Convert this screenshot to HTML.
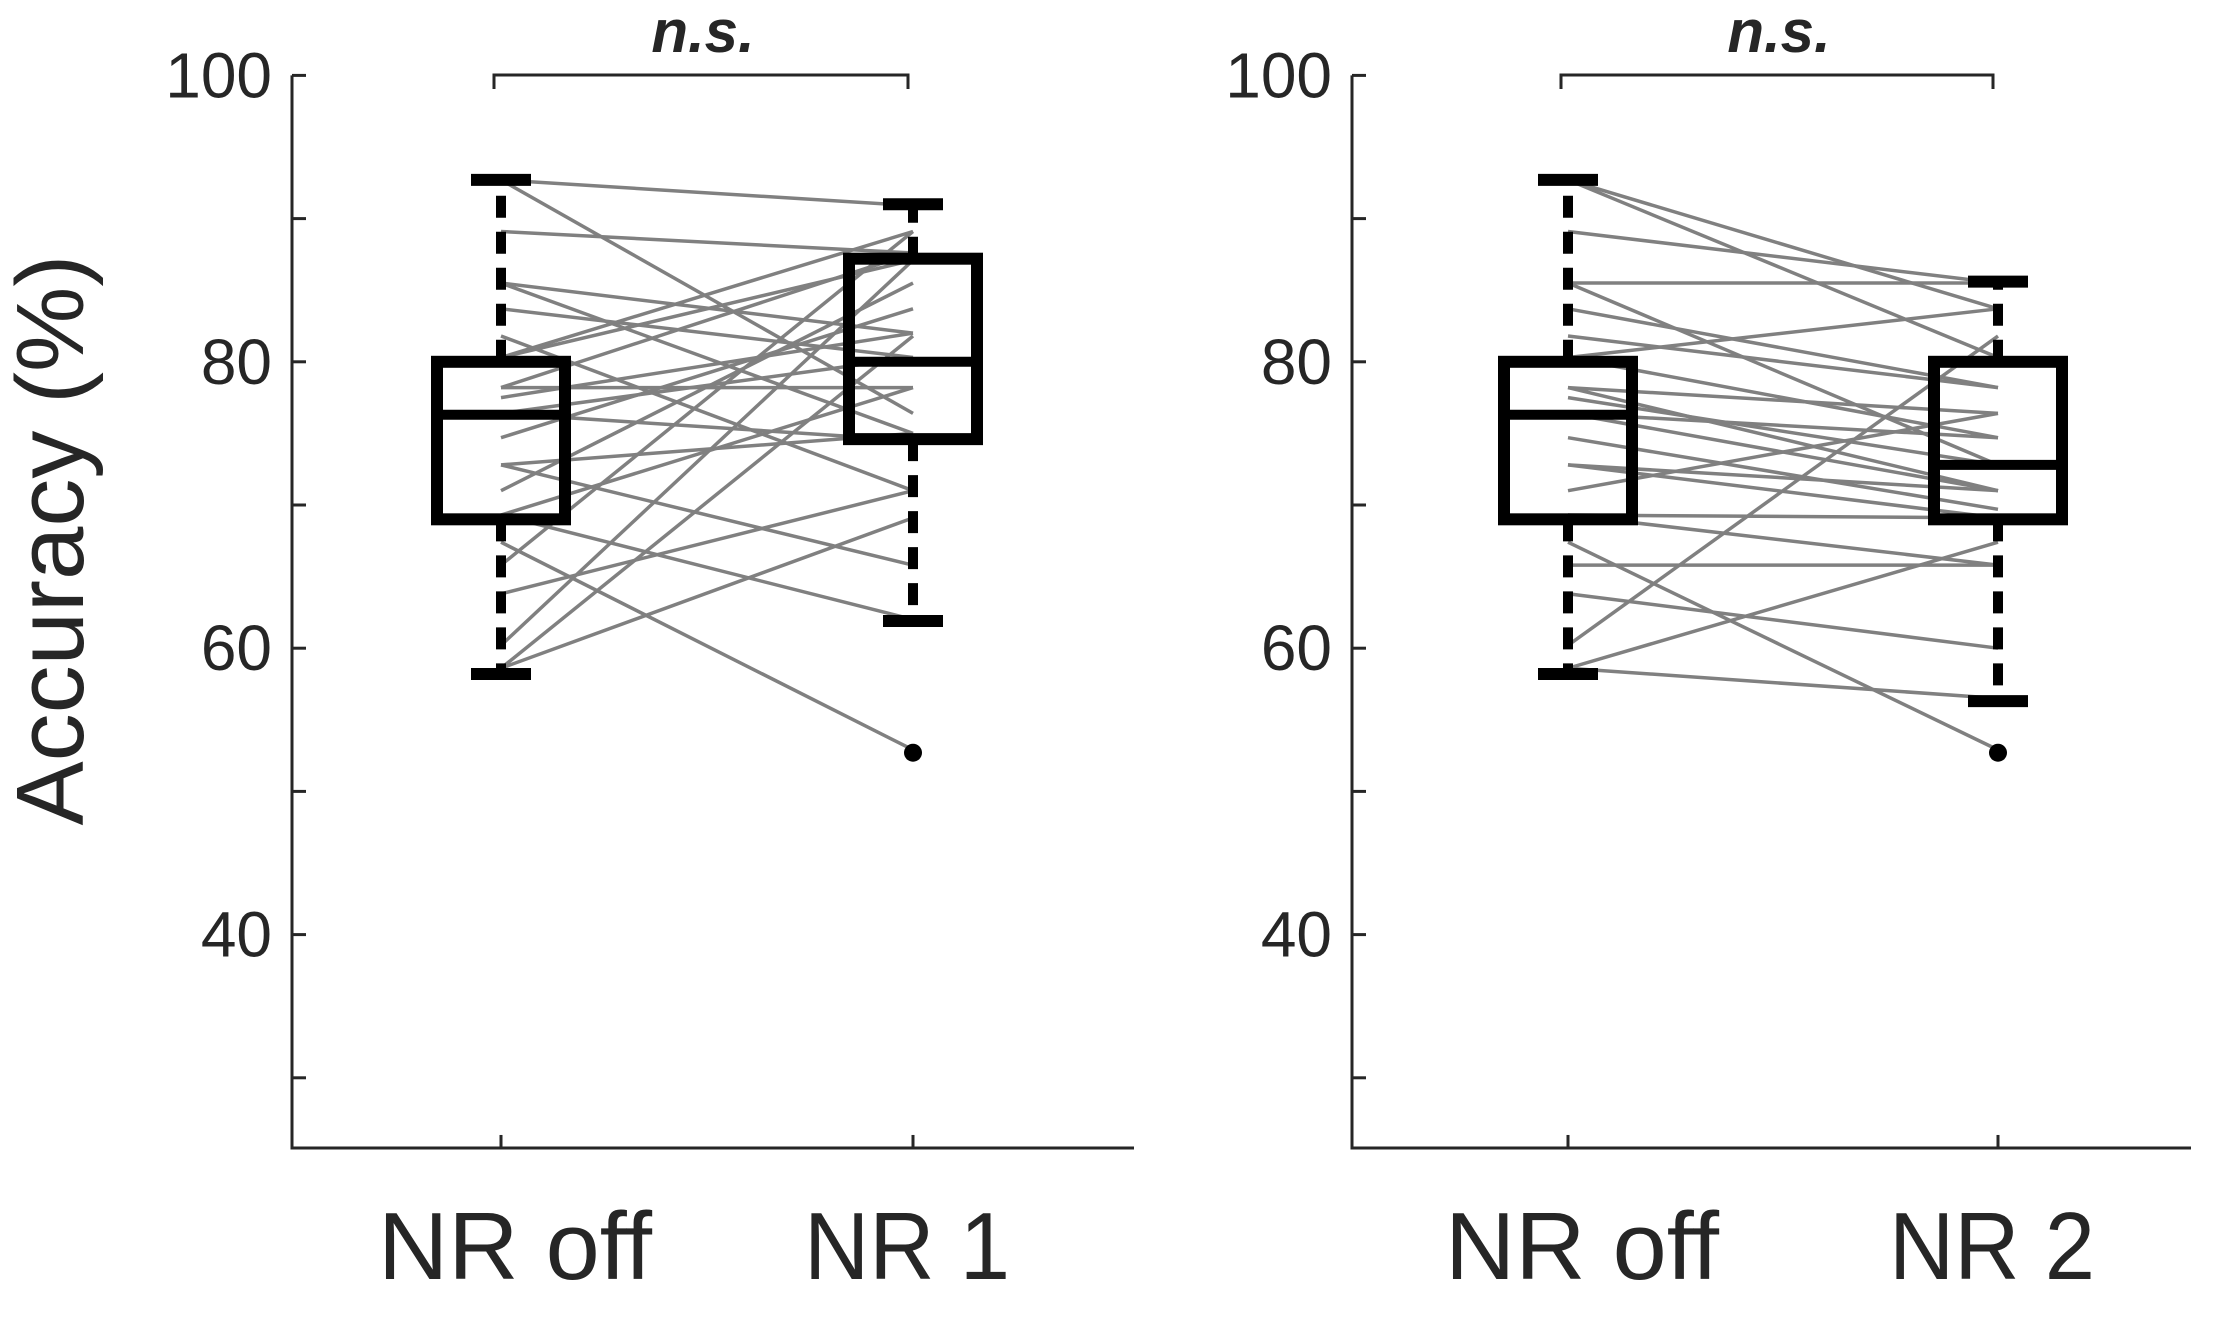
<!DOCTYPE html>
<html><head><meta charset="utf-8"><style>
html,body{margin:0;padding:0;background:#fff;}
svg{display:block;font-family:"Liberation Sans",Arial,sans-serif;}
</style></head><body>
<svg id="chart" width="2231" height="1317" viewBox="0 0 2231 1317" xmlns="http://www.w3.org/2000/svg">
<text transform="translate(83,540) rotate(-90)" text-anchor="middle" font-size="96" fill="#262626">Accuracy (%)</text>
<g id="panels"></g>
</svg>
<script>
// ---- data ----
const yTicks = [30, 40, 50, 60, 70, 80, 90, 100];
const yTickLabels = ["", "40", "", "60", "", "80", "", "100"];
const categoriesA = ["NR off", "NR 1"];
const categoriesB = ["NR off", "NR 2"];
const nrOff = [92.7,92.7,89.1,85.5,85.5,83.7,81.8,80.3,80.3,78.2,78.2,77.5,76.4,76.4,74.7,72.8,72.8,71.0,69.3,69.3,67.4,65.8,63.8,60.2,58.6,58.6];
const nr1   = [90.9,76.4,87.6,82.0,75.0,80.3,71.0,89.1,87.1,87.6,78.2,82.0,74.5,80.3,83.7,65.8,75.0,85.5,62.0,78.2,52.9,89.1,71.0,87.1,69.1,81.8];
const nr2   = [83.7,80.3,85.5,85.5,72.8,78.2,78.2,83.7,74.7,71.0,76.4,72.8,74.7,71.0,69.7,69.1,71.0,76.4,65.8,69.1,52.9,65.8,60.0,81.8,67.4,56.5];
// box stats: [lowWhisker, q1, median, q3, highWhisker]
const boxOff = [58.2, 69.0, 76.3, 80.0, 92.7];
const boxNr1 = [61.9, 74.6, 80.0, 87.2, 91.0];
const boxNr2 = [56.3, 69.0, 72.8, 80.0, 85.6];
const outliersNr1 = [52.7];
const outliersNr2 = [52.7];

// ---- layout ----
const Y0 = 75.4, PX_PER = 14.32, YMAX = 100, YMIN = 25.1;
function yScale(v){ return Y0 + (YMAX - v) * PX_PER; }
const NS = "http://www.w3.org/2000/svg";
const root = document.getElementById('panels');
function mk(tag, attrs, parent){
  const e = document.createElementNS(NS, tag);
  for (const k in attrs) e.setAttribute(k, attrs[k]);
  (parent || root).appendChild(e);
  return e;
}
const panels = [
  {axL:292, axR:1134, x1:501, x2:913, cats:categoriesA, b:nr1, out:outliersNr1, id:'nr1'},
  {axL:1352, axR:2191, x1:1568, x2:1998, cats:categoriesB, b:nr2, out:outliersNr2, id:'nr2'}
];
const labelOffsets = [14, -6];
panels.forEach((p, pi) => {
  const g = mk('g', {});
  
  
  const xs = [p.x1, p.x2];
  function xScale(i){ return xs[i]; }
  const yBottom = yScale(YMIN);
  const ax = mk('path', {d:`M${p.axL},${yScale(YMAX)} V${yBottom} H${p.axR}`, fill:'none', stroke:'#262626', 'stroke-width':3}, g);
  
  
  yTicks.forEach((t, i) => {
    const y = yScale(t);
    const tk = mk('line', {x1:p.axL, x2:p.axL+14, y1:y, y2:y, stroke:'#262626', 'stroke-width':3}, g);
    
    
    if (yTickLabels[i]) {
      const tx = mk('text', {x:p.axL-20, y:y+22, 'text-anchor':'end', 'font-size':64, fill:'#262626'}, g);
      tx.textContent = yTickLabels[i];
      
      
    }
  });
  p.cats.forEach((c, i) => {
    const x = xScale(i);
    const tk = mk('line', {x1:x, x2:x, y1:yBottom, y2:yBottom-13, stroke:'#262626', 'stroke-width':3}, g);
    
    
    const tx = mk('text', {x:x+labelOffsets[i], y:1279, 'text-anchor':'middle', 'font-size':96, fill:'#262626', textLength: c.length>4?274:206, lengthAdjust:'spacingAndGlyphs'}, g);
    tx.textContent = c;
    
    
  });
  nrOff.forEach((v, i) => {
    const ln = mk('line', {x1:xScale(0), y1:yScale(v), x2:xScale(1), y2:yScale(p.b[i]), stroke:'#808080', 'stroke-width':3.5}, g);
    
    
  });
  const stats = [boxOff, pi === 0 ? boxNr1 : boxNr2];
  stats.forEach((s, i) => {
    const x = xScale(i), hw = 64, cw = 30;
    const bg = mk('g', {}, g);
    
    
    mk('line', {x1:x, x2:x, y1:yScale(s[3]), y2:yScale(s[4]), stroke:'#000', 'stroke-width':10, 'stroke-dasharray':'22 14'}, bg);
    mk('line', {x1:x, x2:x, y1:yScale(s[1]), y2:yScale(s[0]), stroke:'#000', 'stroke-width':10, 'stroke-dasharray':'22 14'}, bg);
    mk('line', {x1:x-cw, x2:x+cw, y1:yScale(s[4]), y2:yScale(s[4]), stroke:'#000', 'stroke-width':12}, bg);
    mk('line', {x1:x-cw, x2:x+cw, y1:yScale(s[0]), y2:yScale(s[0]), stroke:'#000', 'stroke-width':12}, bg);
    mk('rect', {x:x-hw, y:yScale(s[3]), width:hw*2, height:yScale(s[1])-yScale(s[3]), fill:'none', stroke:'#000', 'stroke-width':12}, bg);
    mk('line', {x1:x-hw, x2:x+hw, y1:yScale(s[2]), y2:yScale(s[2]), stroke:'#000', 'stroke-width':10}, bg);
  });
  p.out.forEach(v => {
    const c = mk('circle', {cx:xScale(1), cy:yScale(v), r:9, fill:'#000'}, g);
    
    
  });
  const bx1 = xScale(0) - 7, bx2 = xScale(1) - 5, by = 75;
  const br = mk('path', {d:`M${bx1},${by+14} V${by} H${bx2} V${by+14}`, fill:'none', stroke:'#262626', 'stroke-width':3}, g);
  
  
  const ns = mk('text', {x:(bx1+bx2)/2+2, y:52, 'text-anchor':'middle', 'font-size':60, 'font-weight':'bold', 'font-style':'italic', fill:'#262626'}, g);
  ns.textContent = 'n.s.';
  
  
});
</script>
</body></html>
